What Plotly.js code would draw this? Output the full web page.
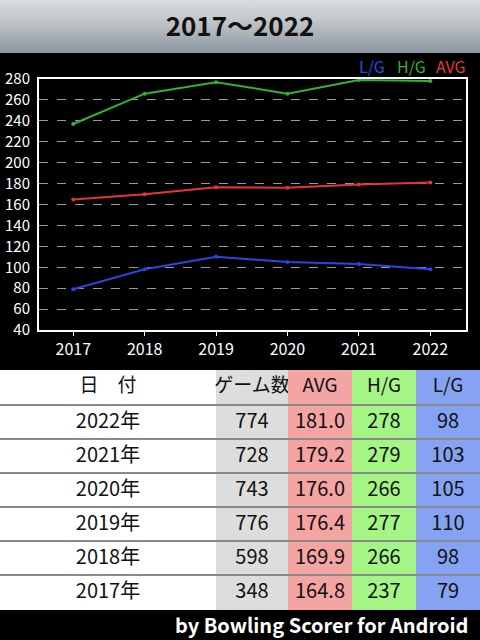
<!DOCTYPE html>
<html>
<head>
<meta charset="utf-8">
<script src="https://cdn.plot.ly/plotly-3.0.1.min.js"></script>
<style>
html,body{margin:0;padding:0;width:480px;height:640px;overflow:hidden;}
body{background:linear-gradient(to bottom,#dadcdd 0px,#c3c7ca 20px,#8c96a0 53px,#000 53px,#000 370px,#fff 370px,#fff 609px,#000 609px,#000 640px);}
#chart{width:480px;height:640px;}
</style>
</head>
<body>
<div id="chart"></div>
<script>
const years = [2017, 2018, 2019, 2020, 2021, 2022];
const avgValues = [164.8, 169.9, 176.4, 176.0, 179.2, 181.0];
const highValues = [237, 266, 277, 266, 279, 278];
const lowValues = [79, 98, 110, 105, 103, 98];
const gameCounts = [348, 598, 776, 743, 728, 774];
const yTicks = [40, 60, 80, 100, 120, 140, 160, 180, 200, 220, 240, 260, 280];
const headerLabels = ['日\u3000付', 'ゲーム数', 'AVG', 'H/G', 'L/G'];
const titleText = '2017〜2022';
const footerText = 'by Bowling Scorer for Android';

const FONT = '"Noto Sans CJK JP", "Noto Sans", sans-serif';
const colFills = ['#ffffff', '#dddddd', '#f5a4a4', '#a5f586', '#85a3f2'];

const order = years.map((_, i) => years.length - 1 - i);
const tableCols = [
  order.map(i => years[i] + '年'),
  order.map(i => String(gameCounts[i])),
  order.map(i => avgValues[i].toFixed(1)),
  order.map(i => String(highValues[i])),
  order.map(i => String(lowValues[i]))
];

const H = 640;
const tableTop = 370, headH = 35, rowH = 34;

const traces = [
  {x: years, y: lowValues, type: 'scatter', mode: 'lines+markers', name: 'L/G',
   line: {color: '#2746e6', width: 2}, marker: {size: 4, color: '#2746e6'}},
  {x: years, y: highValues, type: 'scatter', mode: 'lines+markers', name: 'H/G',
   line: {color: '#2fb52f', width: 2}, marker: {size: 4, color: '#2fb52f'}},
  {x: years, y: avgValues, type: 'scatter', mode: 'lines+markers', name: 'AVG',
   line: {color: '#e53535', width: 2}, marker: {size: 4, color: '#e53535'}},
  {type: 'table',
   domain: {x: [0, 1], y: [1 - 612 / H, 1 - tableTop / H]},
   columnwidth: [216, 72, 64, 64, 64],
   header: {values: headerLabels, height: headH, align: 'center',
     fill: {color: colFills}, line: {color: colFills, width: 1},
     font: {family: FONT, size: 19, color: '#111'}},
   cells: {values: tableCols, height: rowH, align: 'center',
     fill: {color: colFills}, line: {color: colFills, width: 1},
     font: {family: FONT, size: 20, color: '#111'}}}
];

const shapes = [];
for (let r = 0; r < years.length; r++) {
  const yy = 1 - (tableTop + headH + r * rowH) / H;
  shapes.push({type: 'line', xref: 'paper', yref: 'paper', x0: 0, x1: 1, y0: yy, y1: yy,
    line: {color: '#8a8a8a', width: 2}});
}

const legendItems = [
  {text: 'L/G', color: '#2c4ae8', x: 372},
  {text: 'H/G', color: '#2fb52f', x: 411},
  {text: 'AVG', color: '#e53a3a', x: 451}
];
const annotations = legendItems.map(it => ({
  text: it.text, x: it.x / 480, y: 1 - 66 / H, xref: 'paper', yref: 'paper',
  showarrow: false, xanchor: 'center', yanchor: 'middle',
  font: {family: FONT, size: 16, color: it.color}
}));
annotations.push({text: '<b>' + footerText + '</b>', x: 470 / 480, y: 1 - 624 / H,
  xref: 'paper', yref: 'paper', showarrow: false, xanchor: 'right', yanchor: 'middle',
  font: {family: FONT, size: 20, color: '#ffffff'}});

const layout = {
  width: 480, height: 640,
  margin: {l: 0, r: 0, t: 0, b: 0},
  paper_bgcolor: 'rgba(0,0,0,0)',
  plot_bgcolor: '#000000',
  showlegend: false,
  title: {text: '<b>' + titleText + '</b>', x: 0.5, xanchor: 'center', y: 1 - 27 / H, yanchor: 'middle',
    font: {family: FONT, size: 26, color: '#111111'}},
  xaxis: {domain: [39 / 480, 466 / 480], range: [2016.52, 2022.5],
    tickvals: years, ticktext: years.map(String), showgrid: false, zeroline: false,
    showline: true, mirror: true, linecolor: '#ffffff', linewidth: 2,
    ticks: 'outside', ticklen: 4, tickcolor: '#ffffff', tickwidth: 1,
    tickfont: {family: FONT, size: 16, color: '#ffffff'}, fixedrange: true},
  yaxis: {domain: [1 - 330 / H, 1 - 79 / H], range: [40, 280],
    tickvals: yTicks, showgrid: true, gridcolor: '#9a9a9a', griddash: 'dash', gridwidth: 1,
    zeroline: false, showline: true, mirror: true, linecolor: '#ffffff', linewidth: 2,
    ticks: '', ticklabelstandoff: 4,
    tickfont: {family: FONT, size: 15, color: '#ffffff'}, fixedrange: true},
  shapes: shapes,
  annotations: annotations
};

Plotly.newPlot('chart', traces, layout, {displayModeBar: false, staticPlot: true});
</script>
</body>
</html>
